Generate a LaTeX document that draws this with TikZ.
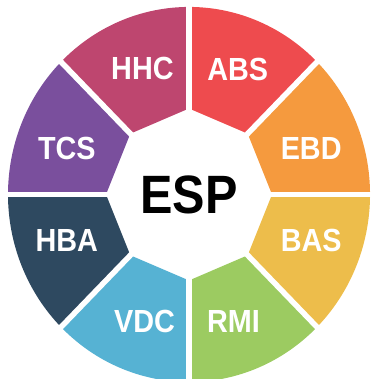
\documentclass[tikz,border=0pt]{standalone}
\usepackage{fontspec}
\setmainfont{Liberation Sans}
\newfontfamily\wheelfont[FakeStretch=0.9]{Liberation Sans}
\definecolor{colEBD}{HTML}{F59A3E}
\definecolor{colABS}{HTML}{EE4B4E}
\definecolor{colHHC}{HTML}{BE466F}
\definecolor{colTCS}{HTML}{7A4F9D}
\definecolor{colHBA}{HTML}{2E4960}
\definecolor{colVDC}{HTML}{56B2D3}
\definecolor{colRMI}{HTML}{9CCB61}
\definecolor{colBAS}{HTML}{EDBD4B}
\begin{document}
\begin{tikzpicture}[x=1pt,y=1.036pt,
    sector label/.style={text=white,font=\wheelfont\bfseries\fontsize{32}{32}\selectfont},
    hub label/.style={text=black,font=\wheelfont\bfseries\fontsize{54}{54}\selectfont}]
  \useasboundingbox (-189,-178.1) rectangle (182,187.7);
  % sectors of the wheel
  \foreach \a/\col/\txt/\la in {0/colEBD/EBD/20, 45/colABS/ABS/68, 90/colHHC/HHC/111, 135/colTCS/TCS/160,
      180/colHBA/HBA/200, 225/colVDC/VDC/250, 270/colRMI/RMI/290, 315/colBAS/BAS/340} {
    \fill[\col] (\a:83) -- (\a:181) arc[start angle=\a, end angle=\a+45, radius=181] -- (\a+45:83) -- cycle;
    \node[sector label] (lbl\txt) at (\la:130) {\txt};
  }
  % white gaps between sectors
  \foreach \a in {0,45,...,315}
    \draw[white, line width=5.5pt] (0,0) -- (\a:200);
  \node[hub label] (hub) at (0,0) {ESP};
\end{tikzpicture}
\end{document}
